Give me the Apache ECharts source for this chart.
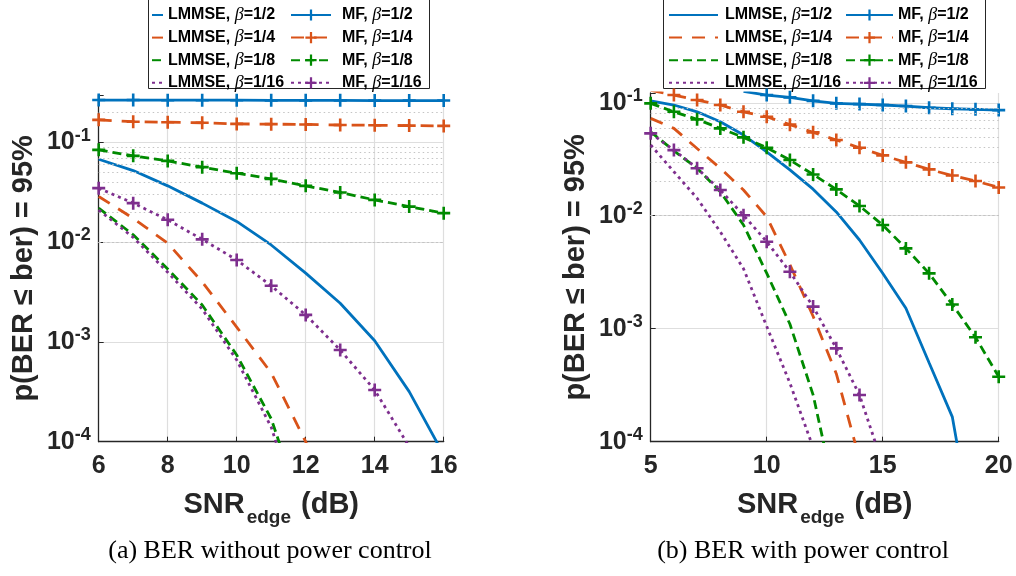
<!DOCTYPE html>
<html><head><meta charset="utf-8">
<script src="https://cdn.jsdelivr.net/npm/echarts@6/dist/echarts.min.js"></script>
<style>html,body{margin:0;padding:0;background:#fff}#c{width:1016px;height:576px}</style>
</head><body><div id="c"></div><script>
// ---------- data (a) BER without power control ----------
const snrA = [6,7,8,9,10,11,12,13,14,15,16];
const aLMMSE_2  = [0.068,0.0524,0.0368,0.0247,0.0162,0.0094,0.0049,0.00245,0.00103,0.000318,0.000074];
const aMF_2     = [0.267,0.267,0.266,0.266,0.266,0.265,0.265,0.265,0.264,0.264,0.264];
const aLMMSE_4  = [0.0288,0.0174,0.0098,0.0040,0.00141,0.00049,0.0001,0.000015,null,null,null];
const aMF_4     = [0.169,0.162,0.160,0.158,0.154,0.153,0.152,0.150,0.149,0.148,0.147];
const aLMMSE_8  = [0.022,0.0119,0.0054,0.00235,0.00074,0.00017,0.000016,null,null,null,null];
const aMF_8     = [0.0845,0.0736,0.0655,0.0567,0.0493,0.0432,0.0368,0.0316,0.0266,0.0228,0.0196];
const aLMMSE_16 = [0.0211,0.0112,0.0050,0.00214,0.00066,0.00014,0.000012,null,null,null,null];
const aMF_16    = [0.0349,0.0247,0.0168,0.0107,0.00665,0.00366,0.00187,0.00083,0.00033,0.000089,null];
// ---------- data (b) BER with power control ----------
const snrB = [5,6,7,8,9,10,11,12,13,14,15,16,17,18,19,20];
const bLMMSE_2  = [0.104,0.0955,0.0832,0.0679,0.0518,0.0368,0.0255,0.0172,0.0108,0.0061,0.0031,0.00152,0.00050,0.000166,0.0000115,null];
const bMF_2     = [null,null,null,null,0.126,0.117,0.1117,0.104,0.0988,0.0973,0.0955,0.0935,0.0903,0.0885,0.0874,0.0861];
const bLMMSE_4  = [0.0727,0.0593,0.0394,0.0263,0.0169,0.0098,0.0037,0.00129,0.0004,0.00007,null,null,null,null,null,null];
const bMF_4     = [0.129,0.117,0.1057,0.0955,0.0832,0.0752,0.0640,0.0547,0.0468,0.040,0.0342,0.0297,0.0257,0.0227,0.0203,0.0178];
const bLMMSE_8  = [0.0553,0.0376,0.0263,0.0163,0.00828,0.0031,0.0011,0.00026,0.00003,null,null,null,null,null,null,null];
const bMF_8     = [0.0988,0.0832,0.0713,0.0593,0.0494,0.040,0.0311,0.0232,0.0171,0.0122,0.00828,0.00514,0.00309,0.00164,0.00084,0.000376];
const bLMMSE_16 = [0.0423,0.0245,0.0143,0.0072,0.0034,0.00105,0.00033,0.000089,null,null,null,null,null,null,null,null];
const bMF_16    = [0.0536,0.0381,0.0263,0.0169,0.0101,0.00589,0.00319,0.00157,0.00067,0.000259,0.000063,null,null,null,null,null];

const names = ['LMMSE, β=1/2','MF, β=1/2','LMMSE, β=1/4','MF, β=1/4','LMMSE, β=1/8','MF, β=1/8','LMMSE, β=1/16','MF, β=1/16'];
const captions = ['(a) BER without power control','(b) BER with power control'];
const yName = 'p(BER ≤ ber) = 95%';

// ---------- styling ----------
const C = {blue:'#0072BD', orange:'#D95319', green:'#008a00', purple:'#7E2F8E'};
const styleOf = [
  {c:C.blue, t:'solid', m:false}, {c:C.blue, t:'solid', m:true},
  {c:C.orange, t:[13,10], m:false}, {c:C.orange, t:[13,10], m:true},
  {c:C.green, t:[9,5], m:false}, {c:C.green, t:[9,5], m:true},
  {c:C.purple, t:[3,4], m:false}, {c:C.purple, t:[3,4], m:true}
];
const PLUS = 'path://M4,0H6V4H10V6H6V10H4V6H0V4H4Z';
const FONT = 'Liberation Sans';
const DARK = '#262626';

function pairs(xs, ys){ const out=[]; xs.forEach((x,i)=>{ if(ys[i]!=null) out.push([x, ys[i]]); }); return out; }

function makeSeries(idx, xs, arrs){
  return arrs.map((ys,k)=>{
    const s = styleOf[k];
    return {
      name: names[k], type:'line', xAxisIndex: idx, yAxisIndex: idx,
      data: pairs(xs, ys), clip: true, z: 3 + k,
      symbol: s.m ? PLUS : 'circle', symbolSize: 13, showSymbol: s.m, showAllSymbol: true,
      itemStyle: {color: s.c},
      lineStyle: {color: s.c, width: 2.8, type: s.t},
      emphasis: {disabled: true}
    };
  });
}

function minorLines(minExp, maxVal){
  const out = [];
  for (let e = minExp; e < 0; e++) {
    for (let k = 2; k <= 9; k++) {
      const v = k * Math.pow(10, e);
      if (v < maxVal) out.push({yAxis: v});
    }
  }
  return out;
}

function gridLinesSeries(idx, maxVal){
  return {
    type:'line', xAxisIndex: idx, yAxisIndex: idx, data: [], z: 1, silent: true,
    markLine: {
      silent: true, symbol: ['none','none'], label: {show:false}, animation:false,
      lineStyle: {color:'#c4c4c4', width:1, type:[1.5,3]},
      emphasis: {disabled: true},
      data: minorLines(-4, maxVal)
    }
  };
}

const yLabelFmt = v => {
  const e = Math.log10(v), r = Math.round(e);
  if (Math.abs(e - r) > 1e-6) return '';
  return '{b|10}{s|' + r + '}';
};

function xAxis(idx, min, max, interval){
  return {
    type:'value', gridIndex: idx, min, max, interval,
    axisLine: {show:true, onZero:false, lineStyle:{color:DARK, width:1.3}},
    axisTick: {show:true, inside:true, length:5, lineStyle:{color:DARK}},
    axisLabel: {fontFamily:FONT, fontWeight:'bold', fontSize:25, color:DARK, margin:12},
    splitLine: {show:true, showMinLine:false, lineStyle:{color:'#dedede', width:1.2}},
    name: '{a|SNR}{s|edge}{a| (dB)}', nameLocation:'middle', nameGap: 40,
    nameTextStyle: {
      rich: {
        a: {fontFamily:FONT, fontWeight:'bold', fontSize:29, color:DARK, lineHeight:30, verticalAlign:'top'},
        s: {fontFamily:FONT, fontWeight:'bold', fontSize:19, color:DARK, lineHeight:19, padding:[25,2,0,2]}
      }
    }
  };
}

function yAxis(idx, maxVal, gap){
  return {
    type:'log', logBase:10, gridIndex: idx, min:1e-4, max:maxVal,
    axisLine: {show:true, lineStyle:{color:DARK, width:1.3}},
    axisTick: {show:true, inside:true, length:5, lineStyle:{color:DARK}},
    axisLabel: {
      formatter: yLabelFmt, margin: 8,
      rich: {
        b: {fontFamily:FONT, fontWeight:'bold', fontSize:25, color:DARK, lineHeight:32},
        s: {fontFamily:FONT, fontWeight:'bold', fontSize:18, color:DARK, lineHeight:18, verticalAlign:'top'}
      }
    },
    splitLine: {show:true, showMaxLine:false, showMinLine:false, lineStyle:{color:'#dedede', width:1.2}},
    name: yName, nameLocation:'middle', nameGap: gap,
    nameTextStyle: {fontFamily:FONT, fontWeight:'bold', fontSize:29, color:DARK}
  };
}

function legendCol(data, left, itemWidth, padLeft, hideSymbol){
  return {
    data: data.map(n => hideSymbol ? {name:n, itemStyle:{color:'rgba(0,0,0,0)', borderWidth:0}} : {name:n}),
    orient:'vertical', left, top:6, itemWidth, itemHeight:14, itemGap:4.6, padding:0,
    selectedMode:false,
    formatter: n => { const p = n.split('β'); return '{t|' + p[0] + '}{g|β}{t|' + p[1] + '}'; },
    textStyle: {
      padding:[0,0,0,padLeft], lineHeight:16,
      rich: {
        t: {fontFamily:FONT, fontWeight:'bold', fontSize:16, color:'#000', lineHeight:16},
        g: {fontFamily:'Liberation Serif', fontStyle:'italic', fontSize:18, color:'#000', lineHeight:16}
      }
    }
  };
}

const lmmseNames = names.filter((n,i)=>i%2===0);
const mfNames = names.filter((n,i)=>i%2===1);

const option = {
  animation:false,
  backgroundColor:'#fff',
  grid: [
    {left:98.7, right:572.3, top:95, bottom:134.3},
    {left:650.7, right:17.3, top:93, bottom:134.3}
  ],
  xAxis: [xAxis(0, 6, 16, 2), xAxis(1, 5, 20, 5)],
  yAxis: [yAxis(0, 0.3, 60), yAxis(1, 0.122, 60)],
  legend: [
    legendCol(lmmseNames, 151, 11, 0, true),
    legendCol(mfNames, 290, 40, 6, false),
    legendCol(lmmseNames, 668, 49, 2, true),
    legendCol(mfNames, 845, 47, 0, false)
  ],
  graphic: [
    {type:'rect', left:148, top:-1, shape:{width:281, height:89}, style:{fill:'#fff', stroke:DARK, lineWidth:1}, z:-1, silent:true},
    {type:'rect', left:663, top:-1, shape:{width:322, height:89}, style:{fill:'#fff', stroke:DARK, lineWidth:1}, z:-1, silent:true},
    {type:'text', x:270, y:551, style:{text:captions[0], font:'26px "Liberation Serif"', fill:'#000', textAlign:'center', textVerticalAlign:'middle'}},
    {type:'text', x:803, y:551, style:{text:captions[1], font:'26px "Liberation Serif"', fill:'#000', textAlign:'center', textVerticalAlign:'middle'}}
  ],
  series: [
    gridLinesSeries(0, 0.3),
    gridLinesSeries(1, 0.122),
    ...makeSeries(0, snrA, [aLMMSE_2,aMF_2,aLMMSE_4,aMF_4,aLMMSE_8,aMF_8,aLMMSE_16,aMF_16]),
    ...makeSeries(1, snrB, [bLMMSE_2,bMF_2,bLMMSE_4,bMF_4,bLMMSE_8,bMF_8,bLMMSE_16,bMF_16])
  ]
};
const chart = echarts.init(document.getElementById('c'), null, {renderer:'canvas'});
chart.setOption(option);
</script></body></html>
